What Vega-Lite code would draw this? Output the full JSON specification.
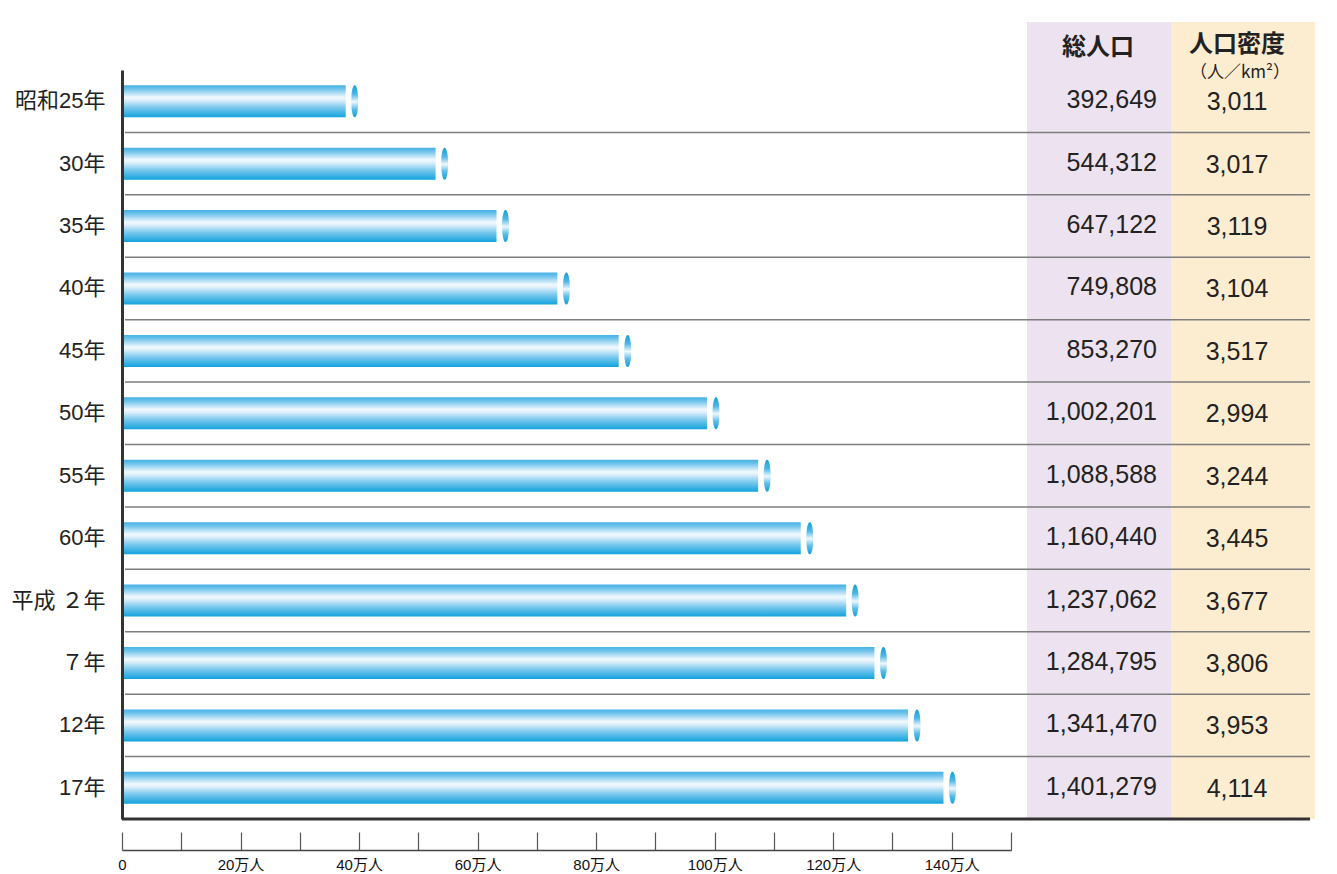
{
  "$schema": "https://vega.github.io/schema/vega-lite/v6.json",
  "width": 1193,
  "height": 797,
  "autosize": {"type": "none"},
  "padding": {"left": 122, "top": 22, "right": 22, "bottom": 55},
  "background": "white",
  "config": {
    "view": {"stroke": null},
    "font": "Noto Sans CJK JP",
    "text": {"font": "Noto Sans CJK JP", "color": "#222222"}
  },
  "data": {
    "values": [
      {"year": "昭和25年", "pop": 392649, "density": 3011},
      {"year": "30年", "pop": 544312, "density": 3017},
      {"year": "35年", "pop": 647122, "density": 3119},
      {"year": "40年", "pop": 749808, "density": 3104},
      {"year": "45年", "pop": 853270, "density": 3517},
      {"year": "50年", "pop": 1002201, "density": 2994},
      {"year": "55年", "pop": 1088588, "density": 3244},
      {"year": "60年", "pop": 1160440, "density": 3445},
      {"year": "平成 ２年", "pop": 1237062, "density": 3677},
      {"year": "７年", "pop": 1284795, "density": 3806},
      {"year": "12年", "pop": 1341470, "density": 3953},
      {"year": "17年", "pop": 1401279, "density": 4114}
    ]
  },
  "layer": [
    {
      "data": {"values": [{"c": "pop"}]},
      "mark": {"type": "rect", "color": "#ece2f0"},
      "encoding": {
        "x": {"datum": 1527000, "type": "quantitative"},
        "x2": {"datum": 1769966}
      }
    },
    {
      "data": {"values": [{"c": "density"}]},
      "mark": {"type": "rect", "color": "#fdedd0"},
      "encoding": {
        "x": {"datum": 1769966, "type": "quantitative"},
        "x2": {"datum": 2012936}
      }
    },
    {
      "transform": [{"filter": "datum.year != '17年'"}],
      "mark": {"type": "rule", "color": "#7d7d7d", "strokeWidth": 1.5},
      "encoding": {
        "x": {"datum": 5062, "type": "quantitative"},
        "x2": {"datum": 2004500},
        "y": {"field": "year", "type": "nominal", "bandPosition": 1,
              "scale": {"type": "band", "domain": ["昭和25年", "30年", "35年", "40年", "45年", "50年", "55年", "60年", "平成 ２年", "７年", "12年", "17年"], "range": [48, 797], "paddingInner": 0, "paddingOuter": 0}}
      }
    },
    {
      "mark": {
        "type": "bar",
        "height": 32,
        "xOffset": -9,
        "fill": {
          "gradient": "linear", "x1": 0, "y1": 0, "x2": 0, "y2": 1,
          "stops": [
            {"offset": 0, "color": "#45b1e4"},
            {"offset": 0.12, "color": "#6fc3ec"},
            {"offset": 0.38, "color": "#f2f9fd"},
            {"offset": 0.46, "color": "#e0f1fa"},
            {"offset": 0.7, "color": "#7ac8ee"},
            {"offset": 1, "color": "#12a3dc"}
          ]
        }
      },
      "encoding": {
        "x": {"field": "pop", "type": "quantitative",
              "scale": {"type": "linear", "domain": [0, 1500000], "range": [0, 889], "nice": false, "zero": false},
              "axis": {
                "values": [0, 100000, 200000, 300000, 400000, 500000, 600000, 700000, 800000, 900000, 1000000, 1100000, 1200000, 1300000, 1400000, 1500000],
                "labelExpr": "datum.value == 0 ? '0' : (datum.value % 200000 == 0 ? (datum.value / 10000) + '万人' : '')",
                "offset": 31,
                "domainColor": "#444444",
                "domainWidth": 1.5,
                "tickColor": "#555555",
                "tickWidth": 1.2,
                "tickSize": -18,
                "labelPadding": 25,
                "labelFont": "Liberation Sans, Noto Sans CJK JP",
                "labelFontSize": 15,
                "labelColor": "#111111",
                "labelFlush": false,
                "labelOverlap": false,
                "title": null,
                "grid": false
              }},
        "x2": {"datum": 0},
        "y": {"field": "year", "type": "nominal",
              "axis": {
                "title": null,
                "domainColor": "#333333",
                "domainWidth": 3,
                "ticks": false,
                "labelFont": "Liberation Sans, Noto Sans CJK JP",
                "labelFontSize": 22,
                "labelColor": "#222222",
                "labelPadding": 17,
                "zindex": 1
              }}
      }
    },
    {
      "mark": {
        "type": "point",
        "shape": "M0,-1C0.29,-1 0.29,1 0,1C-0.29,1 -0.29,-1 0,-1Z",
        "size": 1024,
        "filled": true,
        "opacity": 1,
        "strokeWidth": 0,
        "fill": {
          "gradient": "linear", "x1": 0, "y1": 0, "x2": 0, "y2": 1,
          "stops": [
            {"offset": 0, "color": "#12a0da"},
            {"offset": 0.28, "color": "#4fb7e6"},
            {"offset": 0.52, "color": "#eef8fd"},
            {"offset": 0.75, "color": "#5bbde8"},
            {"offset": 1, "color": "#12a0da"}
          ]
        }
      },
      "encoding": {
        "x": {"field": "pop", "type": "quantitative"},
        "y": {"field": "year", "type": "nominal"}
      }
    },
    {
      "mark": {"type": "text", "align": "right", "baseline": "middle", "font": "Liberation Sans", "fontSize": 25, "dy": -1},
      "encoding": {
        "x": {"datum": 1746344, "type": "quantitative"},
        "y": {"field": "year", "type": "nominal"},
        "text": {"field": "pop", "type": "quantitative", "format": ","}
      }
    },
    {
      "mark": {"type": "text", "align": "center", "baseline": "middle", "font": "Liberation Sans", "fontSize": 25, "dy": 1},
      "encoding": {
        "x": {"datum": 1881327, "type": "quantitative"},
        "y": {"field": "year", "type": "nominal"},
        "text": {"field": "density", "type": "quantitative", "format": ","}
      }
    },
    {
      "transform": [{"filter": "datum.year == '17年'"}],
      "mark": {"type": "rule", "color": "#333333", "strokeWidth": 3},
      "encoding": {
        "x": {"datum": 0, "type": "quantitative"},
        "x2": {"datum": 2004500},
        "y": {"field": "year", "type": "nominal", "bandPosition": 1}
      }
    },
    {
      "data": {"values": [{"h": "総人口", "anchor": "昭和25年"}]},
      "mark": {"type": "text", "align": "center", "baseline": "middle", "fontSize": 24, "fontWeight": "bold", "dy": -53},
      "encoding": {
        "x": {"datum": 1646794, "type": "quantitative"},
        "y": {"field": "anchor", "type": "nominal"},
        "text": {"field": "h", "type": "nominal"}
      }
    },
    {
      "data": {"values": [{"h": "人口密度", "anchor": "昭和25年"}]},
      "mark": {"type": "text", "align": "center", "baseline": "middle", "fontSize": 24, "fontWeight": "bold", "dy": -56},
      "encoding": {
        "x": {"datum": 1881327, "type": "quantitative"},
        "y": {"field": "anchor", "type": "nominal"},
        "text": {"field": "h", "type": "nominal"}
      }
    },
    {
      "data": {"values": [{"h": "（人／km²）", "anchor": "昭和25年"}]},
      "mark": {"type": "text", "align": "center", "baseline": "middle", "fontSize": 17, "dy": -28},
      "encoding": {
        "x": {"datum": 1886389, "type": "quantitative"},
        "y": {"field": "anchor", "type": "nominal"},
        "text": {"field": "h", "type": "nominal"}
      }
    }
  ]
}
